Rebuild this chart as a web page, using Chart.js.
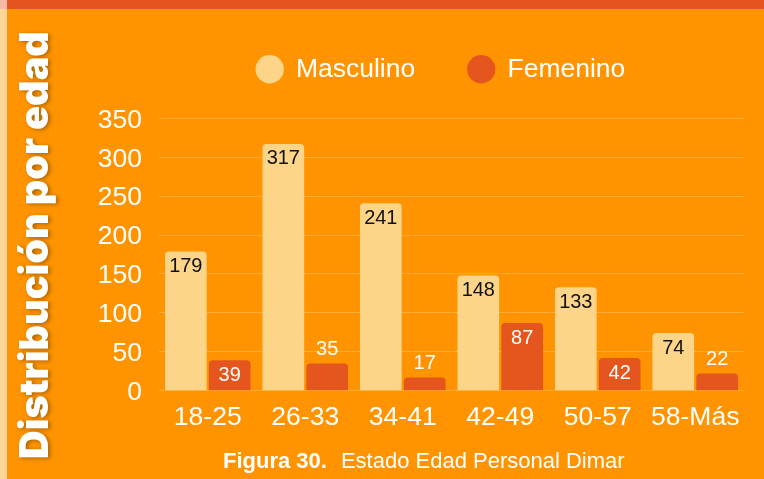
<!DOCTYPE html>
<html>
<head>
<meta charset="utf-8">
<script src="https://cdn.jsdelivr.net/npm/chart.js@4.4.0/dist/chart.umd.min.js"></script>
<style>
  html, body { margin: 0; padding: 0; }
  body { width: 764px; height: 479px; background: #FF9400; position: relative; overflow: hidden; font-family: "Liberation Sans", Arial, sans-serif; }
  #topbar { position: absolute; left: 0; top: 0; width: 764px; height: 9px; background: #E5531F; z-index: 2; }
  #strip { position: absolute; left: 0; top: 0; width: 7px; height: 479px; background: rgba(255,255,255,0.6); z-index: 3; }
  #chart { position: absolute; left: 0; top: 0; z-index: 1; }
  #ytitle { position: absolute; left: 35px; top: 244.5px; transform: translate(-50%, -50%) rotate(-90deg); white-space: nowrap; color: #fff; font-family: Inter, "Open Sans", "DejaVu Sans", sans-serif; font-weight: 900; font-size: 36px; line-height: 1; text-shadow: -1px 2px 4px rgba(0,0,0,0.35); z-index: 4; }
  #caption { position: absolute; left: 223px; top: 450px; color: #fff; font-size: 22px; line-height: 22px; white-space: nowrap; z-index: 4; }
  #caption b { font-weight: bold; }
  #caption span { margin-left: 14px; }
</style>
</head>
<body>
<div id="topbar"></div>
<div id="strip"></div>
<div id="ytitle">Distribución por edad</div>
<canvas id="chart" width="764" height="479"></canvas>
<div id="caption"><b>Figura 30.</b><span>Estado Edad Personal Dimar</span></div>
<script>
const categories = ['18-25', '26-33', '34-41', '42-49', '50-57', '58-Más'];
const masculino = [179, 317, 241, 148, 133, 74];
const femenino = [39, 35, 17, 87, 42, 22];
const seriesNames = ['Masculino', 'Femenino'];
const yTicks = [0, 50, 100, 150, 200, 250, 300, 350];

// fit y-title length
(function(){
  const el = document.getElementById('ytitle');
  const target = 428;
  const w = el.getBoundingClientRect().height; // rotated: visual height = text width
  if (w > 0) el.style.fontSize = (36 * target / w) + 'px';
})();

const legendSpacer = {
  id: 'legendSpacer',
  beforeInit(chart) {
    const lg = chart.legend;
    if (!lg) return;
    const orig = lg.fit;
    lg.fit = function() { orig.call(this); this.height = 115.3; };
  },
  afterLayout(chart) {
    const lg = chart.legend;
    if (!lg) return;
    lg.left += 24; lg.right += 24;
  }
};

const valueLabels = {
  id: 'valueLabels',
  afterDatasetsDraw(chart) {
    const ctx = chart.ctx;
    ctx.save();
    ctx.font = '20px "Liberation Sans", Arial, sans-serif';
    ctx.textAlign = 'center';
    ctx.textBaseline = 'middle';
    chart.data.datasets.forEach((ds, di) => {
      const meta = chart.getDatasetMeta(di);
      meta.data.forEach((bar, i) => {
        const v = ds.data[i];
        const h = bar.base - bar.y;
        const y = (di === 0 || h >= 29) ? bar.y + 15 : bar.y - 14;
        ctx.fillStyle = di === 0 ? '#111111' : '#ffffff';
        ctx.fillText(String(v), bar.x, y);
      });
    });
    ctx.restore();
  }
};

new Chart(document.getElementById('chart'), {
  type: 'bar',
  data: {
    labels: categories,
    datasets: [
      { label: seriesNames[0], data: masculino, backgroundColor: '#FCD589', borderRadius: 4, barPercentage: 0.95, categoryPercentage: 0.9 },
      { label: seriesNames[1], data: femenino, backgroundColor: '#E5561F', borderRadius: 4, barPercentage: 0.95, categoryPercentage: 0.9 }
    ]
  },
  options: {
    responsive: false,
    animation: false,
    layout: { padding: { left: 90, right: 20, top: 3, bottom: 0 } },
    plugins: {
      legend: {
        display: true,
        position: 'top',
        labels: {
          usePointStyle: true,
          pointStyle: 'circle',
          boxWidth: 26,
          boxHeight: 20,
          padding: 53,
          color: '#ffffff',
          font: { family: '"Liberation Sans", Arial, sans-serif', size: 26.5 }
        }
      },
      tooltip: { enabled: false },
      title: { display: false }
    },
    scales: {
      x: {
        grid: { display: false },
        border: { display: false },
        ticks: { color: '#ffffff', padding: 3, font: { family: '"Liberation Sans", Arial, sans-serif', size: 26.5 } },
        afterFit(axis) { axis.height = 479 - 390.7; }
      },
      y: {
        min: 0,
        max: 350,
        afterBuildTicks(axis) { axis.ticks = yTicks.map(v => ({ value: v })); },
        grid: { color: 'rgba(255,255,255,0.22)', drawTicks: false, lineWidth: 1 },
        border: { display: false },
        ticks: { color: '#ffffff', padding: 17, labelOffset: 2, font: { family: '"Liberation Sans", Arial, sans-serif', size: 26.5 } },
        afterFit(axis) { axis.width = 69; }
      }
    }
  },
  plugins: [legendSpacer, valueLabels]
});
</script>
</body>
</html>
